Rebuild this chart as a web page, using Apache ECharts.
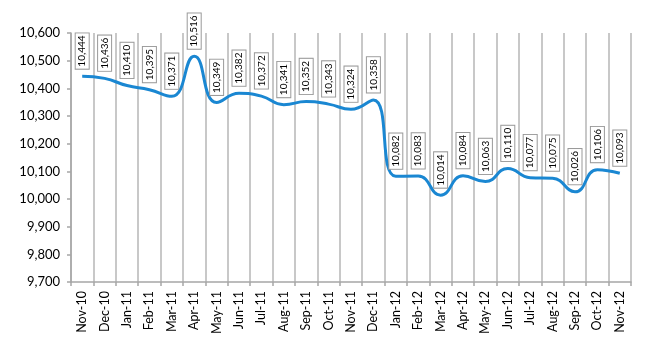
<!DOCTYPE html>
<html>
<head>
<meta charset="utf-8">
<script src="https://cdn.jsdelivr.net/npm/echarts@6/dist/echarts.min.js"></script>
<style>html,body{margin:0;padding:0;background:#fff;}#c{width:650px;height:350px;}</style>
</head>
<body>
<div id="c"></div>
<script>
const categories = ['Nov-10','Dec-10','Jan-11','Feb-11','Mar-11','Apr-11','May-11','Jun-11','Jul-11','Aug-11','Sep-11','Oct-11','Nov-11','Dec-11','Jan-12','Feb-12','Mar-12','Apr-12','May-12','Jun-12','Jul-12','Aug-12','Sep-12','Oct-12','Nov-12'];
const values = [10444,10436,10410,10395,10371,10516,10349,10382,10372,10341,10352,10343,10324,10358,10082,10083,10014,10084,10063,10110,10077,10075,10026,10106,10093];
const yMin = 9700, yMax = 10600, yStep = 100;

const fmt = v => v.toLocaleString('en-US');
const chart = echarts.init(document.getElementById('c'));
chart.setOption({
  animation: false,
  grid: { left: 71, right: 19, top: 33, bottom: 68, containLabel: false },
  xAxis: {
    type: 'category',
    data: categories,
    boundaryGap: true,
    axisLine: { lineStyle: { color: '#a6a6a6', width: 1.5 } },
    axisTick: { show: true, length: 4, lineStyle: { color: '#a6a6a6', width: 1.5 } },
    splitLine: { show: true, lineStyle: { color: '#c8c8c8', width: 2 } },
    axisLabel: { rotate: 90, fontFamily: 'Lato', fontSize: 12.5, color: '#000', margin: 9, interval: 0 }
  },
  yAxis: {
    type: 'value',
    min: yMin, max: yMax, interval: yStep,
    axisLine: { show: true, lineStyle: { color: '#a6a6a6', width: 1.5 } },
    axisTick: { show: true, length: 4, lineStyle: { color: '#a6a6a6', width: 1.5 } },
    splitLine: { show: false },
    axisLabel: { fontFamily: 'Lato', fontSize: 13, color: '#000', margin: 11, formatter: v => fmt(v) }
  },
  series: [{
    type: 'line',
    data: values,
    smooth: 0.5,
    symbol: 'circle',
    symbolSize: 1,
    showSymbol: true,
    itemStyle: { color: 'rgba(0,0,0,0)' },
    lineStyle: { color: '#1a87d2', width: 3 },
    labelLayout: { hideOverlap: false },
    label: {
      show: true,
      position: 'top',
      distance: 7,
      rotate: 90,
      align: 'left',
      verticalAlign: 'middle',
      formatter: p => fmt(p.value),
      fontFamily: 'Lato',
      fontSize: 10,
      color: '#000',
      backgroundColor: '#fff',
      borderColor: '#9a9a9a',
      borderWidth: 1,
      padding: [2, 2, 1, 2]
    }
  }]
});
</script>
</body>
</html>
